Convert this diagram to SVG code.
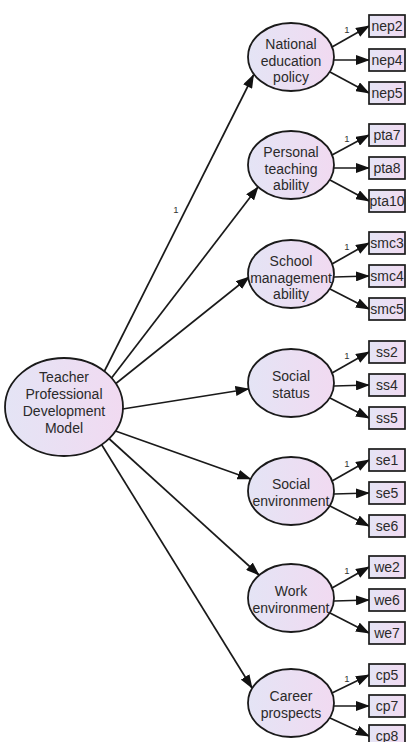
<svg xmlns="http://www.w3.org/2000/svg" width="406" height="742" viewBox="0 0 406 742">
<defs>
<linearGradient id="fill" x1="0" y1="0" x2="1" y2="0">
<stop offset="0" stop-color="#e4e4f5"/>
<stop offset="1" stop-color="#f1daf1"/>
</linearGradient>
<marker id="ah" markerUnits="userSpaceOnUse" markerWidth="14" markerHeight="10" refX="13" refY="5" orient="auto" viewBox="0 0 14 10">
<path d="M0,0 L14,5 L0,10 z" fill="#111"/>
</marker>
<style>
.lat{fill:url(#fill);stroke:#1a1a1a;stroke-width:1.8}
.box{fill:url(#fill);stroke:#1a1a1a;stroke-width:1.7}
.t{font-family:"Liberation Sans",Arial,sans-serif;font-size:14px;fill:#2a2a2a;text-anchor:middle}
.bt{font-family:"Liberation Sans",Arial,sans-serif;font-size:14px;fill:#2a2a2a;text-anchor:middle}
.one{font-family:"Liberation Sans",Arial,sans-serif;font-size:9.5px;fill:#333;text-anchor:middle}
.c{stroke:#1a1a1a;stroke-width:1.7;fill:none;marker-end:url(#ah)}
</style>
</defs>
<g id="connectors">
<line class="c" x1="101" y1="378" x2="253.5" y2="75"/>
<line class="c" x1="110" y1="380" x2="258" y2="187"/>
<line class="c" x1="109" y1="389" x2="249" y2="277"/>
<line class="c" x1="110" y1="411" x2="248.5" y2="389"/>
<line class="c" x1="107" y1="428" x2="250.5" y2="479"/>
<line class="c" x1="105" y1="435" x2="259" y2="575"/>
<line class="c" x1="100" y1="442" x2="252" y2="688"/>
<text class="one" x="176" y="213">1</text>
<line class="c" x1="332" y1="47" x2="369" y2="26"/>
<line class="c" x1="334" y1="60" x2="369" y2="60"/>
<line class="c" x1="330" y1="72" x2="369" y2="93"/>
<text class="one" x="347" y="32.5">1</text>
<line class="c" x1="332" y1="155" x2="369" y2="135"/>
<line class="c" x1="334" y1="168" x2="369" y2="168"/>
<line class="c" x1="330" y1="180" x2="369" y2="201"/>
<text class="one" x="347" y="141.5">1</text>
<line class="c" x1="332" y1="264" x2="369" y2="243"/>
<line class="c" x1="334" y1="277" x2="369" y2="276"/>
<line class="c" x1="330" y1="289" x2="369" y2="309"/>
<text class="one" x="347" y="249.5">1</text>
<line class="c" x1="332" y1="373" x2="369" y2="352"/>
<line class="c" x1="334" y1="386" x2="369" y2="385"/>
<line class="c" x1="330" y1="398" x2="369" y2="418"/>
<text class="one" x="347" y="358.5">1</text>
<line class="c" x1="332" y1="481" x2="369" y2="460"/>
<line class="c" x1="334" y1="494" x2="369" y2="493"/>
<line class="c" x1="330" y1="506" x2="369" y2="526"/>
<text class="one" x="347" y="466.5">1</text>
<line class="c" x1="332" y1="588" x2="369" y2="567"/>
<line class="c" x1="334" y1="601" x2="369" y2="600"/>
<line class="c" x1="330" y1="613" x2="369" y2="633"/>
<text class="one" x="347" y="573.5">1</text>
<line class="c" x1="332" y1="693" x2="369" y2="675"/>
<line class="c" x1="334" y1="706" x2="369" y2="706"/>
<line class="c" x1="330" y1="718" x2="369" y2="736"/>
<text class="one" x="347" y="681.5">1</text>
</g>
<g id="tpdm">
<ellipse class="lat" cx="64" cy="407" rx="59" ry="49"/>
<text class="t" x="64" y="382">Teacher</text>
<text class="t" x="64" y="399">Professional</text>
<text class="t" x="64" y="416">Development</text>
<text class="t" x="64" y="433">Model</text>
</g>
<g id="nep">
<ellipse class="lat" cx="291" cy="57" rx="43" ry="34"/>
<text class="t" x="291" y="49">National</text>
<text class="t" x="291" y="65.5">education</text>
<text class="t" x="291" y="82">policy</text>
</g>
<g id="pta">
<ellipse class="lat" cx="291" cy="165" rx="43" ry="34"/>
<text class="t" x="291" y="157">Personal</text>
<text class="t" x="291" y="173.5">teaching</text>
<text class="t" x="291" y="190">ability</text>
</g>
<g id="smc">
<ellipse class="lat" cx="291" cy="274" rx="43" ry="34"/>
<text class="t" x="291" y="266">School</text>
<text class="t" x="291" y="282.5">management</text>
<text class="t" x="291" y="299">ability</text>
</g>
<g id="ss">
<ellipse class="lat" cx="291" cy="383" rx="43" ry="34"/>
<text class="t" x="291" y="381">Social</text>
<text class="t" x="291" y="398">status</text>
</g>
<g id="se">
<ellipse class="lat" cx="291" cy="491" rx="43" ry="34"/>
<text class="t" x="291" y="489">Social</text>
<text class="t" x="291" y="506">environment</text>
</g>
<g id="we">
<ellipse class="lat" cx="291" cy="598" rx="43" ry="34"/>
<text class="t" x="291" y="596">Work</text>
<text class="t" x="291" y="613">environment</text>
</g>
<g id="cp">
<ellipse class="lat" cx="291" cy="703" rx="43" ry="34"/>
<text class="t" x="291" y="701">Career</text>
<text class="t" x="291" y="718">prospects</text>
</g>
<g id="nep2"><rect class="box" x="369" y="15" width="36" height="22"/><text class="bt" x="387" y="31">nep2</text></g>
<g id="nep4"><rect class="box" x="369" y="49" width="36" height="22"/><text class="bt" x="387" y="65">nep4</text></g>
<g id="nep5"><rect class="box" x="369" y="82" width="36" height="22"/><text class="bt" x="387" y="98">nep5</text></g>
<g id="pta7"><rect class="box" x="369" y="124" width="36" height="22"/><text class="bt" x="387" y="140">pta7</text></g>
<g id="pta8"><rect class="box" x="369" y="157" width="36" height="22"/><text class="bt" x="387" y="173">pta8</text></g>
<g id="pta10"><rect class="box" x="369" y="190" width="36" height="22"/><text class="bt" x="387" y="206">pta10</text></g>
<g id="smc3"><rect class="box" x="369" y="232" width="36" height="22"/><text class="bt" x="387" y="248">smc3</text></g>
<g id="smc4"><rect class="box" x="369" y="265" width="36" height="22"/><text class="bt" x="387" y="281">smc4</text></g>
<g id="smc5"><rect class="box" x="369" y="298" width="36" height="22"/><text class="bt" x="387" y="314">smc5</text></g>
<g id="ss2"><rect class="box" x="369" y="341" width="36" height="22"/><text class="bt" x="387" y="357">ss2</text></g>
<g id="ss4"><rect class="box" x="369" y="374" width="36" height="22"/><text class="bt" x="387" y="390">ss4</text></g>
<g id="ss5"><rect class="box" x="369" y="407" width="36" height="22"/><text class="bt" x="387" y="423">ss5</text></g>
<g id="se1"><rect class="box" x="369" y="449" width="36" height="22"/><text class="bt" x="387" y="465">se1</text></g>
<g id="se5"><rect class="box" x="369" y="482" width="36" height="22"/><text class="bt" x="387" y="498">se5</text></g>
<g id="se6"><rect class="box" x="369" y="515" width="36" height="22"/><text class="bt" x="387" y="531">se6</text></g>
<g id="we2"><rect class="box" x="369" y="556" width="36" height="22"/><text class="bt" x="387" y="572">we2</text></g>
<g id="we6"><rect class="box" x="369" y="589" width="36" height="22"/><text class="bt" x="387" y="605">we6</text></g>
<g id="we7"><rect class="box" x="369" y="622" width="36" height="22"/><text class="bt" x="387" y="638">we7</text></g>
<g id="cp5"><rect class="box" x="369" y="664" width="36" height="22"/><text class="bt" x="387" y="680">cp5</text></g>
<g id="cp7"><rect class="box" x="369" y="695" width="36" height="22"/><text class="bt" x="387" y="711">cp7</text></g>
<g id="cp8"><rect class="box" x="369" y="725" width="36" height="22"/><text class="bt" x="387" y="740.5">cp8</text></g>
</svg>
